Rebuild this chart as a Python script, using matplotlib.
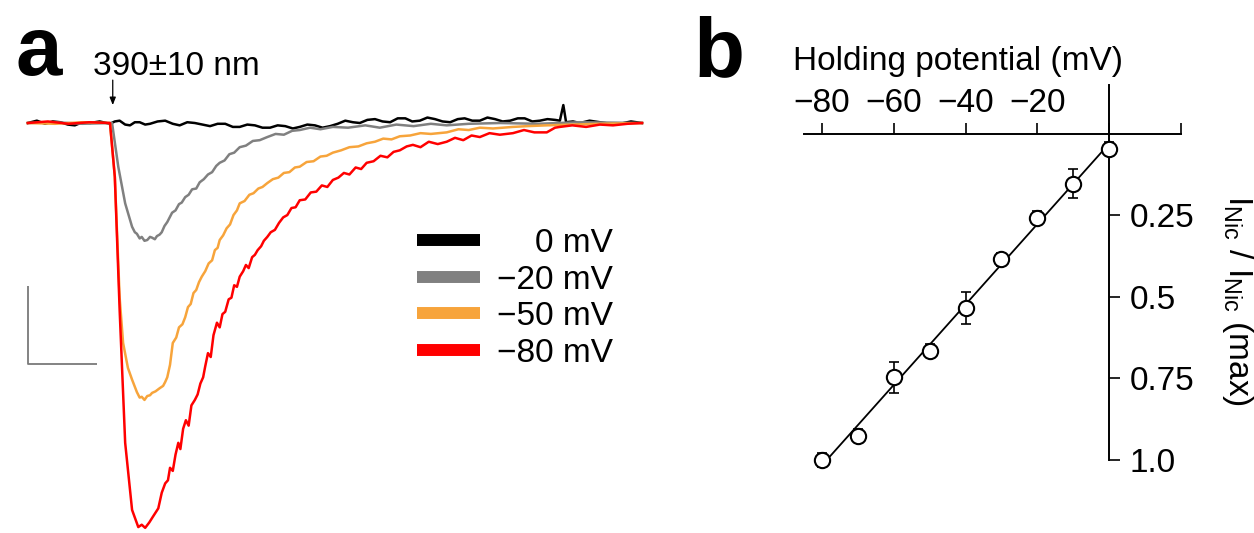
import numpy as np
import matplotlib
matplotlib.use("Agg")
import matplotlib.pyplot as plt

plt.rcParams['font.family'] = ['Liberation Sans', 'DejaVu Sans']
plt.rcParams['mathtext.fontset'] = 'custom'
plt.rcParams['mathtext.rm'] = 'Liberation Sans'
plt.rcParams['mathtext.it'] = 'Liberation Sans:italic'

########## panel a data: photocurrent traces (t in s, I in pA, light at t=0) ##########
t_0mV = [-1.19, -1.06, -0.94, -0.83, -0.72, -0.61, -0.51, -0.40, -0.29, -0.15, 0.00, 0.07,
         0.14, 0.22, 0.29, 0.36, 0.43, 0.51, 0.58, 0.69, 0.80, 0.91, 1.01, 1.12, 1.23, 1.34,
         1.45, 1.56, 1.67, 1.78, 1.88, 1.99, 2.10, 2.21, 2.32, 2.43, 2.54, 2.65, 2.75, 2.86,
         2.97, 3.08, 3.19, 3.30, 3.41, 3.52, 3.62, 3.73, 3.84, 3.95, 4.06, 4.17, 4.28, 4.38,
         4.49, 4.60, 4.71, 4.82, 4.93, 5.04, 5.14, 5.25, 5.36, 5.47, 5.58, 5.69, 5.80, 5.91,
         6.01, 6.12, 6.23, 6.34, 6.45, 6.52, 6.57, 6.61, 6.71, 6.81, 6.95, 7.10, 7.25, 7.39,
         7.55, 7.71]
I_0mV = [0, 3, -1, 2, 1, -2, -3, 1, 0, 2, -1, 2,
         3, -2, -3, 1, 1, -2, -1, 2, 3, -1, -3, 1, 0, -2,
         -4, -1, -1, -5, -5, -2, -3, -6, -6, -3, -4, -7, -5, -2,
         -3, -6, -4, -1, 3, 1, 0, 4, 5, 2, 1, 6, 6, 2,
         3, 7, 5, 2, 1, 5, 6, 3, 3, 7, 5, 2, 3, 6,
         6, 2, 3, 5, 4, 3, 23, 1, 2, 0, 3, 1, -1, -1,
         2, 0]

t_20mV = [-1.19, -0.80, -0.40, 0.00, 0.03, 0.12, 0.22, 0.32, 0.36, 0.39, 0.43, 0.46, 0.50,
          0.54, 0.58, 0.61, 0.65, 0.68, 0.72, 0.75, 0.79, 0.83, 0.90, 0.95, 1.00, 1.04, 1.09,
          1.14, 1.19, 1.25, 1.30, 1.36, 1.42, 1.48, 1.54, 1.59, 1.66, 1.73, 1.80, 1.88, 1.97,
          2.07, 2.17, 2.28, 2.40, 2.52, 2.64, 2.75, 2.90, 3.05, 3.23, 3.45, 3.70, 3.91, 4.15,
          4.40, 4.65, 4.88, 5.20, 5.65, 6.20, 6.80, 7.71]
I_20mV = [0, 1, -1, 0, 0, -56, -103, -133, -140, -142, -148, -146, -151,
          -150, -146, -147, -149, -145, -143, -140, -132, -127, -115, -112, -104, -102, -95,
          -92, -85, -84, -76, -72, -66, -63, -55, -51, -48, -40, -38, -31, -29,
          -23, -22, -18, -14, -15, -10, -9, -6, -8, -5, -6, -3, -6, -2,
          -4, -1, -3, -1, 0, -1, 1, 0]

t_50mV = [-1.19, -0.80, -0.40, 0.00, 0.07, 0.14, 0.19, 0.26, 0.32, 0.39, 0.43, 0.46, 0.50,
          0.54, 0.58, 0.61, 0.66, 0.72, 0.77, 0.80, 0.83, 0.87, 0.91, 0.96, 1.00, 1.05, 1.09,
          1.13, 1.17, 1.21, 1.25, 1.29, 1.33, 1.38, 1.43, 1.48, 1.52, 1.56, 1.59, 1.64, 1.69,
          1.74, 1.79, 1.84, 1.88, 1.95, 2.02, 2.08, 2.15, 2.21, 2.28, 2.36, 2.44, 2.52, 2.60,
          2.68, 2.75, 2.85, 2.95, 3.05, 3.14, 3.23, 3.35, 3.47, 3.60, 3.72, 3.84, 3.96, 4.08,
          4.20, 4.35, 4.50, 4.65, 4.88, 5.05, 5.20, 5.36, 5.55, 5.84, 6.05, 6.33, 6.70, 7.10,
          7.71]
I_50mV = [0, -1, 1, 0, -69, -224, -282, -314, -329, -345, -352, -351, -355,
          -350, -349, -346, -344, -340, -337, -332, -326, -310, -282, -275, -262, -258, -249,
          -236, -232, -218, -214, -204, -197, -190, -180, -176, -163, -160, -150, -144, -135,
          -130, -118, -112, -103, -100, -92, -90, -84, -82, -77, -72, -70, -64, -63,
          -57, -56, -50, -49, -43, -42, -38, -35, -31, -30, -26, -24, -20, -21,
          -17, -16, -13, -14, -12, -8, -9, -6, -7, -5, -4, -3, -2, -1,
          0]

t_80mV = [-1.19, -0.90, -0.60, -0.30, 0.00, 0.07, 0.14, 0.22, 0.32, 0.41, 0.46, 0.51, 0.57,
          0.62, 0.70, 0.75, 0.80, 0.84, 0.87, 0.91, 0.95, 0.99, 1.02, 1.06, 1.10, 1.14, 1.18,
          1.23, 1.27, 1.31, 1.35, 1.38, 1.42, 1.46, 1.50, 1.55, 1.59, 1.63, 1.67, 1.72, 1.76,
          1.80, 1.84, 1.88, 1.93, 1.97, 2.01, 2.06, 2.10, 2.14, 2.19, 2.23, 2.28, 2.33, 2.39,
          2.45, 2.51, 2.57, 2.63, 2.69, 2.75, 2.83, 2.91, 2.99, 3.07, 3.15, 3.23, 3.31, 3.39,
          3.47, 3.56, 3.64, 3.72, 3.82, 3.92, 4.02, 4.11, 4.20, 4.30, 4.39, 4.50, 4.62, 4.75,
          4.88, 5.00, 5.12, 5.24, 5.36, 5.50, 5.65, 5.84, 6.00, 6.15, 6.33, 6.45, 6.52, 6.70,
          6.90, 7.10, 7.29, 7.50, 7.71]
I_80mV = [0, 2, -1, 1, 0, -69, -240, -410, -496, -518, -515, -519, -512,
          -505, -494, -474, -462, -458, -442, -446, -425, -410, -418, -392, -381, -388, -362,
          -355, -348, -334, -326, -312, -295, -300, -272, -256, -262, -245, -242, -226, -224,
          -208, -210, -197, -190, -182, -186, -172, -169, -163, -158, -151, -146, -140, -137,
          -128, -121, -118, -109, -108, -99, -98, -89, -88, -80, -82, -73, -70, -64,
          -66, -57, -59, -51, -49, -42, -44, -37, -35, -30, -28, -31, -24, -27,
          -24, -19, -22, -16, -18, -13, -15, -13, -9, -12, -12, -6, -5, -3,
          -5, -2, -3, -1, 0]

trace_labels = ["0 mV", "\u221220 mV", "\u221250 mV", "\u221280 mV"]
trace_colors = ["#000000", "#808080", "#f7a43b", "#ff0000"]

scalebar_t = 1.0     # s
scalebar_I = 100.0   # pA

########## panel b data: normalised nicotinic current vs holding potential ##########
V_hold = [-80, -70, -60, -50, -40, -30, -20, -10, 0]
I_norm = [1.00, 0.926, 0.746, 0.665, 0.533, 0.384, 0.257, 0.153, 0.046]
I_err = [0.02, 0.02, 0.047, 0.02, 0.049, 0.02, 0.02, 0.044, 0.02]

xticks_b = [-80, -60, -40, -20, 0, 20]
xticklabels_b = ["\u221280", "\u221260", "\u221240", "\u221220", "", ""]
yticks_b = [0.25, 0.5, 0.75, 1.0]
yticklabels_b = ["0.25", "0.5", "0.75", "1.0"]

W, H = 1254, 533
fig = plt.figure(figsize=(W / 100, H / 100), dpi=100)

########## panel a ##########
axa = fig.add_axes([0, 0, 660 / W, 1])
axa.set_xlim(-1.594, 7.971)
axa.set_ylim(-525.6, 157.7)
axa.axis("off")

traces = [(t_0mV, I_0mV), (t_20mV, I_20mV), (t_50mV, I_50mV), (t_80mV, I_80mV)]
for (tt, ii), c in zip(traces, trace_colors):
    axa.plot(tt, ii, color=c, lw=1.8)

# scale bar
t0 = t_0mV[0]
sb_bottom = -2 * scalebar_I - 109
axa.plot([t0, t0, t0 + scalebar_t], [sb_bottom + scalebar_I, sb_bottom, sb_bottom],
         color="#7a7a7a", lw=1.3, solid_capstyle="butt")

# stimulus
axa.annotate("", xy=(0.04, 23), xytext=(0.04, 55),
             arrowprops=dict(arrowstyle="-|>,head_length=0.45,head_width=0.18",
                             color="black", lw=0.9, shrinkA=0, shrinkB=0))
axa.text(93 / 660, 1 - 75 / H, "390\u00b110 nm", transform=axa.transAxes,
         fontsize=24, ha="left", va="baseline")

# legend drawn by hand (labels are right aligned)
rows_y = [240, 277, 313, 350]
for y, c, lab in zip(rows_y, trace_colors, trace_labels):
    yf = 1 - y / H
    axa.plot([417 / 660, 480 / 660], [yf, yf], transform=axa.transAxes,
             color=c, lw=8.6, solid_capstyle="butt")
    axa.text(613 / 660, yf, lab, transform=axa.transAxes, fontsize=24,
             ha="right", va="center_baseline")

fig.text(15 / W, 1 - 75 / H, "a", fontsize=60, fontweight="bold", ha="left", va="baseline")
fig.text(693 / W, 1 - 76 / H, "b", fontsize=60, fontweight="bold", ha="left", va="baseline")

########## panel b ##########
x_left, x_right = -85, 20
px_per_mV = (1109 - 822) / 80
left_px = 1109 + x_left * px_per_mV
right_px = 1109 + x_right * px_per_mV
axb = fig.add_axes([left_px / W, 1 - 460 / H, (right_px - left_px) / W, 375 / H])
axb.set_xlim(x_left, x_right)
axb.set_ylim(1.0, -0.15)

for s in ["bottom", "left"]:
    axb.spines[s].set_visible(False)
axb.spines["top"].set_position(("data", 0))
axb.spines["right"].set_position(("data", 0))
axb.spines["top"].set_linewidth(1.4)
axb.spines["right"].set_linewidth(1.4)
axb.spines["top"].set_bounds(x_left, x_right)
axb.spines["right"].set_bounds(-0.15, 1.0)

axb.xaxis.set_ticks_position("top")
axb.yaxis.set_ticks_position("right")
axb.set_xticks(xticks_b)
axb.set_xticklabels(xticklabels_b)
axb.set_yticks(yticks_b)
axb.set_yticklabels(yticklabels_b)
axb.tick_params(axis="both", direction="out", length=8, width=1.2, labelsize=24)
axb.tick_params(axis="x", pad=3)
axb.tick_params(axis="y", pad=7)

fit = np.polyfit(V_hold, I_norm, 1)
vv = np.array([V_hold[0], V_hold[-1]])
axb.plot(vv, np.polyval(fit, vv), color="black", lw=1.3, zorder=2, clip_on=False)
axb.errorbar(V_hold, I_norm, yerr=I_err, fmt="none", ecolor="black", elinewidth=1.2,
             capsize=3.6, capthick=1.2, zorder=2, clip_on=False)
axb.plot(V_hold, I_norm, "o", ms=11, mfc="white", mec="black", mew=1.5, zorder=3,
         clip_on=False)

fig.text(958 / W, 1 - 70 / H, "Holding potential (mV)", fontsize=24, ha="center",
         va="baseline")
fig.text(1237 / W, 1 - 300 / H, r"I$_{\mathrm{Nic}}$ / I$_{\mathrm{Nic}}$ (max)",
         fontsize=24, rotation=270, ha="center", va="center")

fig.savefig("out.png", dpi=100)
